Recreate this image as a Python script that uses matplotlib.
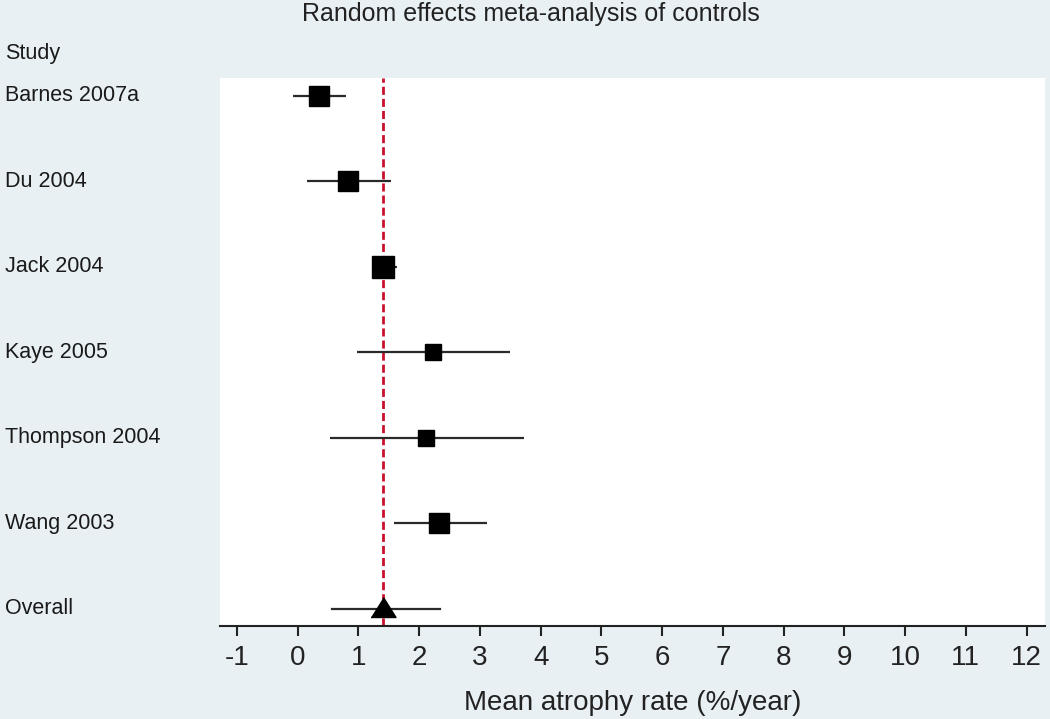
import numpy as np
import matplotlib
matplotlib.use('Agg')
import matplotlib.pyplot as plt
from matplotlib.transforms import blended_transform_factory

# study estimates (mean atrophy rate, %/year) with 95% CI
studies = ["Barnes 2007a", "Du 2004", "Jack 2004", "Kaye 2005",
           "Thompson 2004", "Wang 2003"]
means = [0.35, 0.82, 1.41, 2.22, 2.12, 2.32]
lower = [-0.08, 0.15, 1.22, 0.97, 0.53, 1.58]
upper = [0.79, 1.53, 1.64, 3.49, 3.73, 3.11]
weights = [19.2, 19.2, 21.2, 12.3, 10.8, 17.3]

overall_mean = 1.41
overall_lower = 0.56
overall_upper = 2.34

xticks = list(range(-1, 13))

bg = '#e8f0f4'
plt.rcParams['font.family'] = ['Liberation Sans', 'DejaVu Sans']

fig = plt.figure(figsize=(10.5, 7.19), dpi=100, facecolor=bg)
ax = fig.add_axes([0.2095, 0.1293, 0.7855, 0.7622])
ax.set_facecolor('white')

n = len(studies)
ypos = np.arange(n + 1, 1, -1)  # rows top to bottom, overall at 1

# study rows
for y, m, lo, hi, w in zip(ypos, means, lower, upper, weights):
    ax.plot([lo, hi], [y, y], color='#2a2a2a', lw=1.6, solid_capstyle='butt', zorder=2)
    ax.plot(m, y, marker='s', color='black', ms=3.3 * np.sqrt(w), zorder=3)

# overall
ax.plot([overall_lower, overall_upper], [1, 1], color='#2a2a2a', lw=1.6, zorder=2)
tri = [(-1, -0.64), (1, -0.64), (0, 0.96)]
ax.plot(overall_mean, 1, marker=tri, color='black', ms=18, zorder=4)

# pooled estimate line
ax.axvline(overall_mean, color='#c8102e', lw=2, linestyle=(0, (2.9, 1.45)), zorder=1)

ax.set_xlim(-1.28, 12.3)
ax.set_ylim(0.80, 7.21)
ax.set_xticks(xticks)
ax.set_xticklabels([str(t) for t in xticks], fontsize=20, color='#222222')
ax.tick_params(axis='x', direction='out', length=7, width=1.5, pad=7, color='#222222')
ax.set_yticks([])
for s in ['left', 'top', 'right']:
    ax.spines[s].set_visible(False)
ax.spines['bottom'].set_linewidth(1.5)
ax.spines['bottom'].set_color('#222222')

ax.set_xlabel("Mean atrophy rate (%/year)", fontsize=20, labelpad=13, color='#222222')

# row labels in the left margin
trans = blended_transform_factory(fig.transFigure, ax.transData)
for y, name in zip(ypos, studies):
    ax.text(5 / 1050, y, name, transform=trans, ha='left', va='center',
            fontsize=15.5, color='#1a1a1a', clip_on=False)
ax.text(5 / 1050, 1, "Overall", transform=trans, ha='left', va='center',
        fontsize=15.5, color='#1a1a1a', clip_on=False)
ax.text(5 / 1050, 7.5, "Study", transform=trans, ha='left', va='center',
        fontsize=15.5, color='#1a1a1a', clip_on=False)

fig.text(0.506, 0.9805, "Random effects meta-analysis of controls",
         ha='center', va='center', fontsize=18, color='#222222')

fig.savefig('out.png', dpi=100, facecolor=bg)
